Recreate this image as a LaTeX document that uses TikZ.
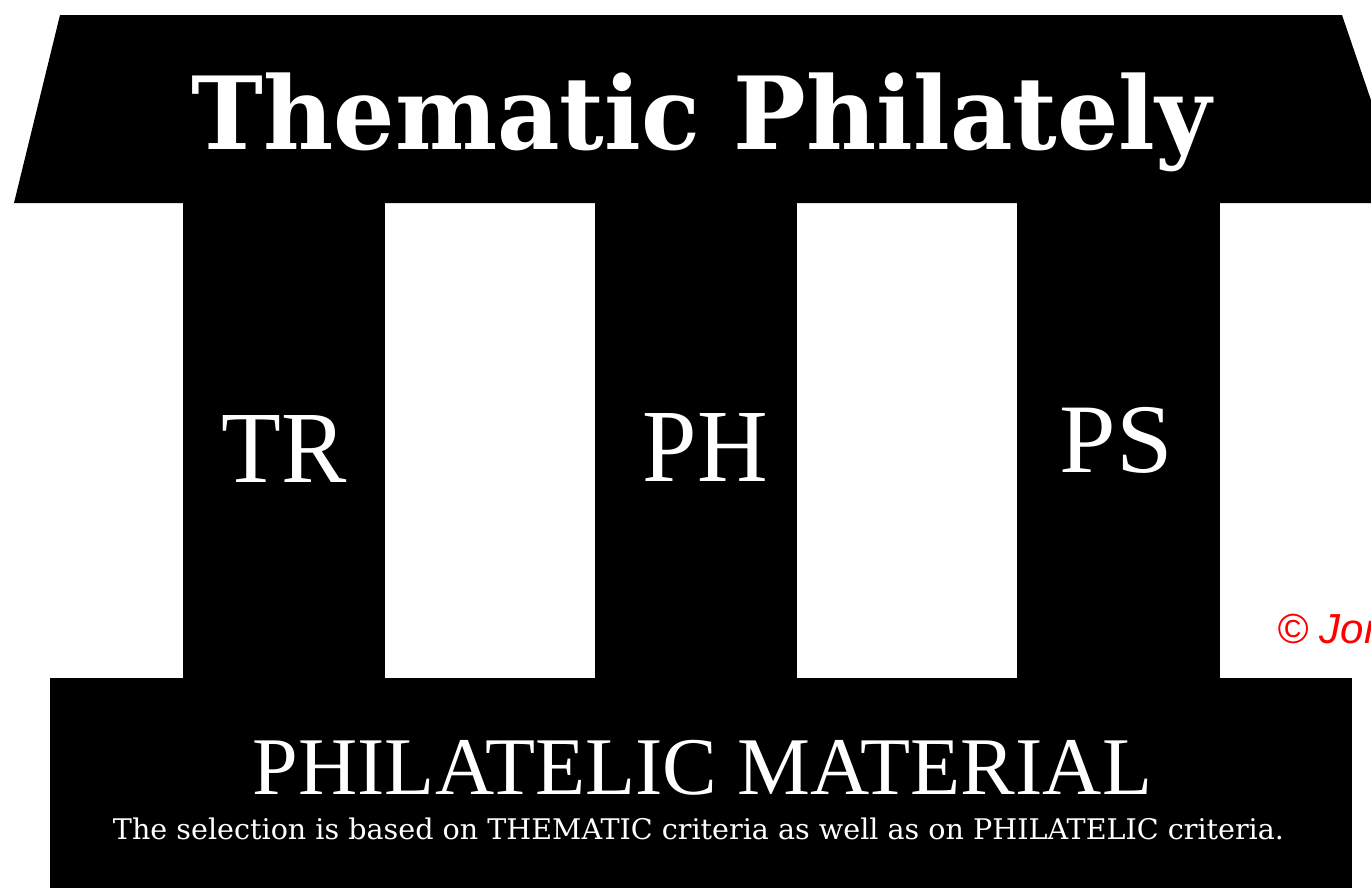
\documentclass[tikz,border=0pt]{standalone}
\usepackage{graphicx}
\usepackage{fontspec}
\setmainfont{Liberation Serif}
\newfontfamily\slabfont{DejaVu Serif}
\newfontfamily\copyfont{Liberation Sans}
\begin{document}
\begin{tikzpicture}[x=1pt,y=-1pt,
  lbl/.style={text=white,inner sep=0pt,anchor=center},
  blk/.style={fill=black,draw=none}]
\useasboundingbox (0,0) rectangle (1371,887);
\clip (0,0) rectangle (1371,887);
\fill[white] (0,0) rectangle (1371,887);
% roof
\fill[blk] (60,15) -- (1342,15) -- (1406,203) -- (14,203) -- cycle;
% columns
\fill[blk] (183,200) rectangle (385,680);
\fill[blk] (595,200) rectangle (797,680);
\fill[blk] (1017,200) rectangle (1220,680);
% base
\fill[blk] (50,678) rectangle (1352,900);
% texts
\node[lbl] (title) at (701.5,122.5) {\resizebox*{1020pt}{99pt}{\slabfont\bfseries Thematic Philately}};
\node[lbl] (tr) at (284.5,448.5) {\resizebox*{125pt}{67pt}{TR}};
\node[lbl] (ph) at (705.5,447) {\resizebox*{125pt}{68pt}{PH}};
\node[lbl] (ps) at (1116.5,440) {\resizebox*{113pt}{66pt}{PS}};
\node[lbl] (mat) at (702.5,767.5) {\resizebox*{899pt}{55pt}{PHILATELIC MATERIAL}};
\node[lbl] (sel) at (698.5,829) {\resizebox*{1171pt}{22pt}{\slabfont The selection is based on THEMATIC criteria as well as on PHILATELIC criteria.}};
\node[anchor=base west,text=red,inner sep=0pt,font=\copyfont\itshape\fontsize{42}{42}\selectfont] (copy) at (1277,643) {© Jon};
\end{tikzpicture}
\end{document}
